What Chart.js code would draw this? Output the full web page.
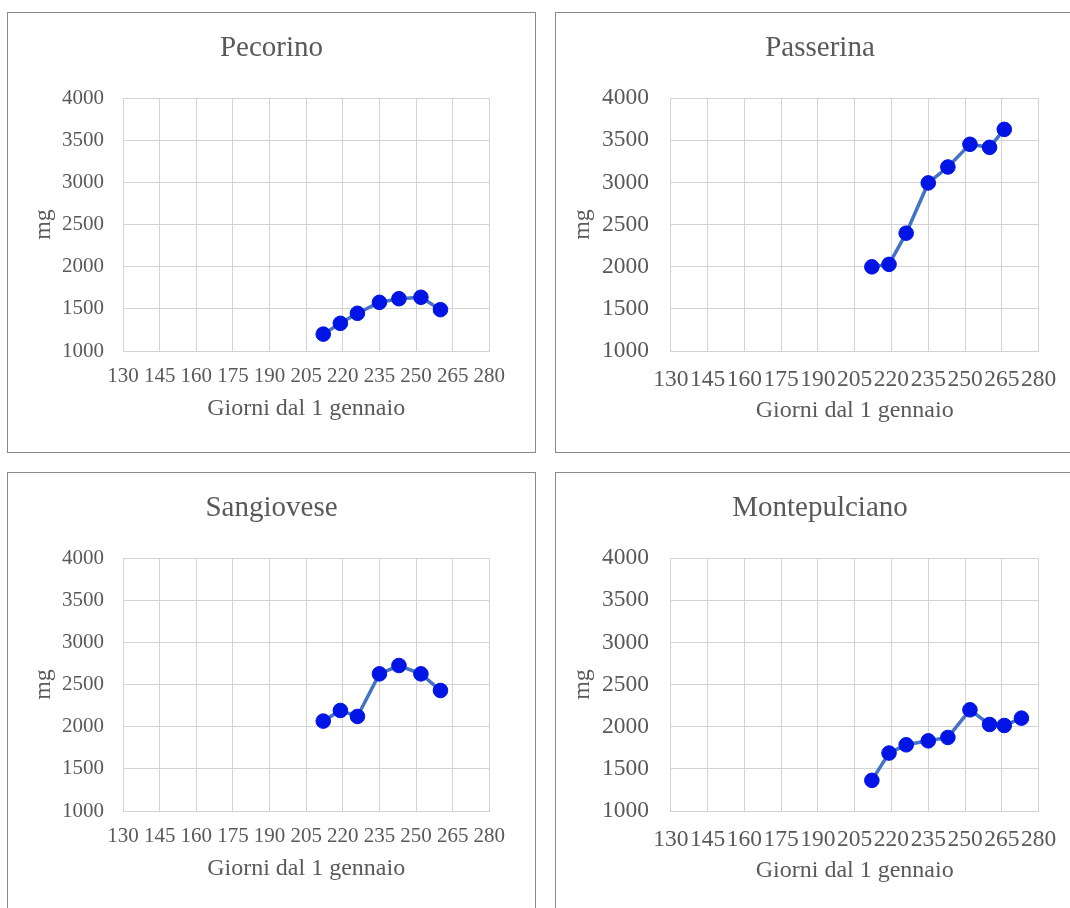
<!DOCTYPE html>
<html lang="it">
<head>
<meta charset="utf-8">
<title>Grafici varietà</title>
<script src="https://cdn.jsdelivr.net/npm/chart.js@4/dist/chart.umd.min.js"></script>
<style>
    html, body { margin: 0; padding: 0; background: #ffffff; overflow: hidden; }
    body { width: 1070px; height: 908px; position: relative; }
    .pannello { position: absolute; border: 1px solid #8a8a8a; box-sizing: border-box; background: #ffffff; }
    .pannello canvas { position: absolute; left: 0; top: 0; }
</style>
</head>
<body>
<div class="pannello" id="p1" style="left:7px; top:12px; width:529px; height:441px;"><canvas id="c1" width="527" height="439"></canvas></div>
<div class="pannello" id="p2" style="left:555px; top:12px; width:530px; height:441px;"><canvas id="c2" width="528" height="439"></canvas></div>
<div class="pannello" id="p3" style="left:7px; top:472px; width:529px; height:441px;"><canvas id="c3" width="527" height="439"></canvas></div>
<div class="pannello" id="p4" style="left:555px; top:472px; width:530px; height:441px;"><canvas id="c4" width="528" height="439"></canvas></div>

<script>
// Giorni dal 1 gennaio (asse x)
const giorni7 = [212, 219, 226, 235, 243, 252, 260];
const giorni8 = [212, 219, 226, 235, 243, 252, 260, 266];
const giorni9 = [212, 219, 226, 235, 243, 252, 260, 266, 273];

// Valori in mg
const pecorino = [1200, 1328, 1447, 1577, 1620, 1637, 1490];
const passerina = [1998, 2027, 2397, 2993, 3182, 3451, 3415, 3628];
const sangiovese = [2066, 2192, 2121, 2626, 2725, 2626, 2429];
const montepulciano = [1363, 1687, 1785, 1832, 1872, 2200, 2026, 2014, 2101];

// Scale e testi
const xMin = 130, xMax = 280, xStep = 15;
const yMin = 1000, yMax = 4000, yStep = 500;
const titoloX = 'Giorni dal 1 gennaio';
const titoloY = 'mg';

const FONT = "'Liberation Serif', 'Times New Roman', serif";
const GRIGIO_TESTO = '#595959';
const GRIGIO_GRIGLIA = '#d3d3d3';

// Impaginazione dei due tipi di pannello (sinistra / destra)
const layoutSinistra = { tick: 21, tickPadX: 12.4, tickPadY: 19, yWidth: 115, xHeight: 72, spazioDestra: 45.7, padBottom: 29, mgPad: 21 };
const layoutDestra = { tick: 23.5, tickPadX: 14.9, tickPadY: 21.8, yWidth: 114.8, xHeight: 74.4, spazioDestra: 45.4, padBottom: 26.6, mgPad: 12.5 };

function creaGrafico(idCanvas, titolo, xs, ys, lay) {
    const el = document.getElementById(idCanvas);
    if (!el) return null;

    const punti = xs.map((x, i) => ({ x: x, y: ys[i] }));

    return new Chart(el.getContext('2d'), {
        type: 'scatter',
        data: {
            datasets: [{
                data: punti,
                showLine: true,
                borderColor: '#4472C4',
                borderWidth: 3.5,
                tension: 0,
                pointRadius: 7.3,
                pointHoverRadius: 7.3,
                pointBackgroundColor: '#0014E6',
                pointBorderColor: '#0014E6',
                pointBorderWidth: 1
            }]
        },
        options: {
            responsive: false,
            animation: false,
            events: [],
            layout: {
                padding: { left: 0, top: 0, right: 0, bottom: lay.padBottom }
            },
            plugins: {
                legend: { display: false },
                tooltip: { enabled: false },
                title: {
                    display: true,
                    text: titolo,
                    color: GRIGIO_TESTO,
                    font: { family: FONT, size: 29, weight: 'normal', lineHeight: 1.2 },
                    padding: { top: 18.1, bottom: 32.1 }
                }
            },
            scales: {
                x: {
                    type: 'linear',
                    min: xMin,
                    max: xMax,
                    afterFit: (scale) => { scale.height = lay.xHeight; },
                    grid: { color: GRIGIO_GRIGLIA, lineWidth: 1, drawTicks: false },
                    border: { color: GRIGIO_GRIGLIA, width: 1 },
                    ticks: {
                        stepSize: xStep,
                        autoSkip: false,
                        maxRotation: 0,
                        minRotation: 0,
                        padding: lay.tickPadX,
                        color: GRIGIO_TESTO,
                        font: { family: FONT, size: lay.tick },
                        callback: (v) => String(v)
                    },
                    title: {
                        display: true,
                        text: titoloX,
                        color: GRIGIO_TESTO,
                        font: { family: FONT, size: 24, lineHeight: 1.2 },
                        padding: { top: 0, bottom: 0 }
                    }
                },
                y: {
                    type: 'linear',
                    min: yMin,
                    max: yMax,
                    afterFit: (scale) => { scale.width = lay.yWidth; },
                    grid: { color: GRIGIO_GRIGLIA, lineWidth: 1, drawTicks: false },
                    border: { color: GRIGIO_GRIGLIA, width: 1 },
                    ticks: {
                        stepSize: yStep,
                        padding: lay.tickPadY,
                        color: GRIGIO_TESTO,
                        font: { family: FONT, size: lay.tick },
                        callback: (v) => String(v)
                    },
                    title: {
                        display: true,
                        text: titoloY,
                        color: GRIGIO_TESTO,
                        font: { family: FONT, size: 24, lineHeight: 1.2 },
                        padding: { top: lay.mgPad, bottom: 0 }
                    }
                },
                // asse vuoto a destra: lascia lo spazio senza spostare il titolo
                spazio: {
                    type: 'linear',
                    position: 'right',
                    min: yMin,
                    max: yMax,
                    afterFit: (scale) => { scale.width = lay.spazioDestra; },
                    grid: { display: false },
                    border: { display: false },
                    ticks: { display: false }
                }
            }
        }
    });
}

creaGrafico('c1', 'Pecorino', giorni7, pecorino, layoutSinistra);
creaGrafico('c2', 'Passerina', giorni8, passerina, layoutDestra);
creaGrafico('c3', 'Sangiovese', giorni7, sangiovese, layoutSinistra);
creaGrafico('c4', 'Montepulciano', giorni9, montepulciano, layoutDestra);
</script>
</body>
</html>
